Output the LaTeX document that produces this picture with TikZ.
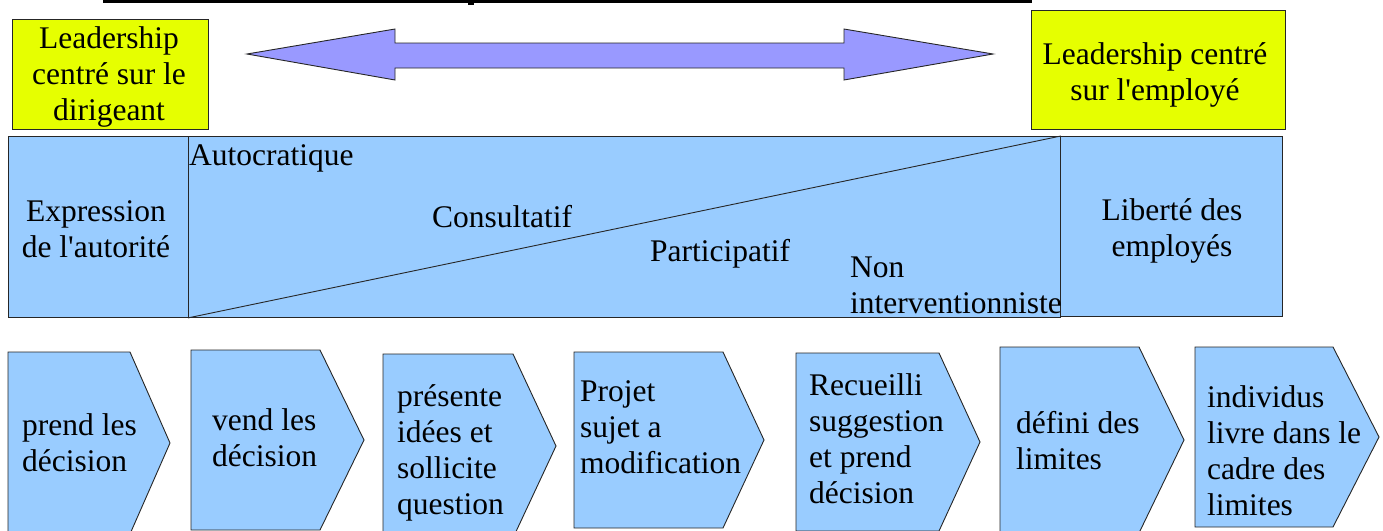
\documentclass[tikz,border=0pt]{standalone}
\usepackage{fontspec}
\setmainfont{Liberation Serif}[Ligatures=TeXOff]
\definecolor{leadyellow}{HTML}{E6FF00}
\definecolor{bandblue}{HTML}{99CCFF}
\definecolor{arrowblue}{HTML}{9999FF}
\begin{document}
\begin{tikzpicture}[x=1pt,y=-1pt,
  edge/.style={draw=black!85,line width=0.9pt},
  leadbox/.style={edge,fill=leadyellow,rectangle,anchor=north west,inner sep=0pt},
  bandbox/.style={edge,fill=bandblue,rectangle,anchor=north west,inner sep=0pt},
  chevron/.style={edge,fill=bandblue,line join=miter},
  % multi-line texts are placed by the baseline of their last line
  txt/.style={font=\fontsize{31.5}{36}\selectfont,inner sep=0pt,anchor=base west,align=left},
  ctxt/.style={txt,anchor=base,align=center}]
\useasboundingbox (0,0) rectangle (1383,530);
\clip (0,0) rectangle (1383,530);

% rule at the top edge
\draw[line width=3pt] (103,1) -- (1032,1);
\fill (468,0) rectangle (474,5);

% the two poles
\node[leadbox,minimum width=196,minimum height=110] (lead) at (12,19) {};
\node[leadbox,minimum width=254,minimum height=119] (empl) at (1031,10) {};
\node[ctxt] (leadtxt) at (109,120) {Leadership\\centré sur le\\dirigeant};
\node[ctxt] (empltxt) at (1155,100) {Leadership centré\\sur l'employé};

% double-headed arrow between the poles
\draw[edge,fill=arrowblue,line join=miter] (247,54) -- (395,29) -- (395,43) -- (844,43)
  -- (844,29) -- (993,54) -- (844,80) -- (844,68) -- (395,68) -- (395,80) -- cycle;

% continuum band
\node[bandbox,minimum width=180,minimum height=181] (expr) at (8,136) {};
\node[bandbox,minimum width=872,minimum height=181] (styles) at (188,136) {};
\node[bandbox,minimum width=222,minimum height=180] (libre) at (1060,136) {};
\draw[edge] (styles.south west) -- (styles.north east);

\node[ctxt] (exprtxt) at (96,257) {Expression\\de l'autorité};
\node[txt] (auto) at (189,165) {Autocratique};
\node[txt] (consult) at (432,227) {Consultatif};
\node[txt] (partic) at (650,261) {Participatif};
\node[txt] (nonint) at (850,313) {Non\\interventionniste};
\node[ctxt] (libretxt) at (1172,256) {Liberté des\\employés};

% row of chevrons: index / left / top / corner / tip x / tip y
\foreach \n/\l/\t/\c/\p/\m in {1/8/352/130/170/443, 2/191/350/320/364/440,
    3/383/354/513/556/446, 4/574/352/723/764/440, 5/796/353/939/980/442,
    6/1000/347/1139/1184/440, 7/1195/347/1333/1379/437}
  \draw[chevron] (\l,\t) -- (\c,\t) -- (\p,\m) -- (\c,2*\m-\t) -- (\l,2*\m-\t) -- cycle;

\node[txt] (c1) at (22,471) {prend les\\décision};
\node[txt] (c2) at (212,466) {vend les\\décision};
\node[txt] (c3) at (397,514) {présente\\idées et\\sollicite\\question};
\node[txt] (c4) at (580,473) {Projet\\sujet a\\modification};
\node[txt] (c5) at (809,503) {Recueilli\\suggestion\\et prend\\décision};
\node[txt] (c6) at (1016,469) {défini des\\limites};
\node[txt] (c7) at (1207,515) {individus\\livre dans le\\cadre des\\limites};
\end{tikzpicture}
\end{document}
